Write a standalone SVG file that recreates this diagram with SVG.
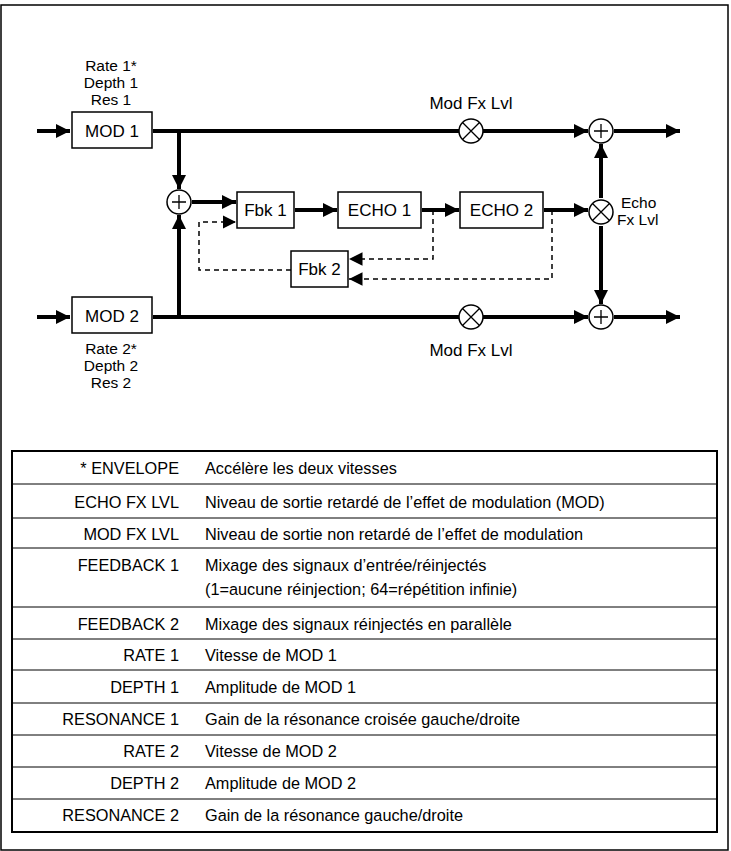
<svg xmlns="http://www.w3.org/2000/svg" width="731" height="851" viewBox="0 0 731 851">
<style>
text{font-family:"Liberation Sans",Arial,sans-serif;font-size:17px;fill:#000}
#table text{font-size:16.3px}
.s{font-size:15.5px}
.c{text-anchor:middle}.r{text-anchor:end}
.box{fill:#fff;stroke:#000;stroke-width:1.5}
.w{fill:none;stroke:#000;stroke-width:4}
.d{fill:none;stroke:#000;stroke-width:1.5;stroke-dasharray:5,4}
.circ{fill:#fff;stroke:#000;stroke-width:1.5}
.t{stroke:#000;stroke-width:1.3}
</style>
<defs>
<marker id="a" viewBox="0 0 10 10" refX="10" refY="5" markerWidth="3.6" markerHeight="3.6" orient="auto" markerUnits="strokeWidth"><path d="M0,0L10,5L0,10z" fill="#000"/></marker>
<marker id="b" viewBox="0 0 10 10" refX="10" refY="5" markerWidth="9" markerHeight="9" orient="auto" markerUnits="strokeWidth"><path d="M0,0L10,5L0,10z" fill="#000"/></marker>
</defs>
<rect x="1" y="5" width="727" height="845" fill="#fff" stroke="#000" stroke-width="1.5"/>
<g id="connectors">
<path class="w" d="M37,131H70" marker-end="url(#a)"/>
<path class="w" d="M37,317H70" marker-end="url(#a)"/>
<path class="w" d="M153,131H588" marker-end="url(#a)"/>
<path class="w" d="M153,317H588" marker-end="url(#a)"/>
<path class="w" d="M179,131V189" marker-end="url(#a)"/>
<path class="w" d="M179,317V215" marker-end="url(#a)"/>
<path class="w" d="M192,202H236" marker-end="url(#a)"/>
<path class="w" d="M295,210H337" marker-end="url(#a)"/>
<path class="w" d="M422,210H459" marker-end="url(#a)"/>
<path class="w" d="M544,210H588" marker-end="url(#a)"/>
<path class="w" d="M614,131H680" marker-end="url(#a)"/>
<path class="w" d="M614,317H680" marker-end="url(#a)"/>
<path class="w" d="M601,198V144" marker-end="url(#a)"/>
<path class="w" d="M601,226V304" marker-end="url(#a)"/>
<path class="d" d="M291,270H199V222H236" marker-end="url(#b)"/>
<path class="d" d="M433,210V259H349" marker-end="url(#b)"/>
<path class="d" d="M552,210V279H349" marker-end="url(#b)"/>
</g>
<g id="sum-in"><circle class="circ" cx="179" cy="202" r="12"/><path class="t" d="M172,202H186M179,195V209"/></g>
<g id="sum-top"><circle class="circ" cx="601" cy="131" r="12"/><path class="t" d="M594,131H608M601,124V138"/></g>
<g id="sum-bot"><circle class="circ" cx="601" cy="317" r="12"/><path class="t" d="M594,317H608M601,310V324"/></g>
<g id="mul-top"><circle class="circ" cx="471" cy="131" r="12"/><path class="t" d="M462.5,122.5L479.5,139.5M479.5,122.5L462.5,139.5"/><text class="c" x="471" y="109">Mod Fx Lvl</text></g>
<g id="mul-bot"><circle class="circ" cx="471" cy="317" r="12"/><path class="t" d="M462.5,308.5L479.5,325.5M479.5,308.5L462.5,325.5"/><text class="c" x="471" y="356">Mod Fx Lvl</text></g>
<g id="mul-echo"><circle class="circ" cx="601" cy="212" r="12"/><path class="t" d="M592.5,203.5L609.5,220.5M609.5,203.5L592.5,220.5"/><text class="s" x="621" y="208">Echo</text><text class="s" x="617" y="225">Fx Lvl</text></g>
<g id="mod1"><rect class="box" x="72" y="112" width="80" height="36"/><text class="c" x="112" y="137">MOD 1</text>
<text class="c s" x="111" y="71">Rate 1*</text><text class="c s" x="111" y="88">Depth 1</text><text class="c s" x="111" y="105">Res 1</text></g>
<g id="mod2"><rect class="box" x="72" y="297" width="80" height="36"/><text class="c" x="112" y="322">MOD 2</text>
<text class="c s" x="111" y="354">Rate 2*</text><text class="c s" x="111" y="371">Depth 2</text><text class="c s" x="111" y="388">Res 2</text></g>
<g id="fbk1"><rect class="box" x="237" y="192" width="57" height="36"/><text class="c" x="265.5" y="216">Fbk 1</text></g>
<g id="echo1"><rect class="box" x="338" y="192" width="83" height="36"/><text class="c" x="379.5" y="216">ECHO 1</text></g>
<g id="echo2"><rect class="box" x="460" y="192" width="83" height="36"/><text class="c" x="501.5" y="216">ECHO 2</text></g>
<g id="fbk2"><rect class="box" x="291" y="251" width="57" height="36"/><text class="c" x="319.5" y="275">Fbk 2</text></g>
<g id="table">
<rect x="12" y="451" width="705" height="381" fill="none" stroke="#000" stroke-width="2"/>
<path stroke="#000" stroke-width="1" d="M12,484H717M12,518H717M12,548H717M12,607H717M12,639H717M12,670H717M12,703H717M12,735H717M12,767H717M12,799H717"/>
<text class="r" x="179" y="474">* ENVELOPE</text><text x="205" y="474">Accélère les deux vitesses</text>
<text class="r" x="179" y="508">ECHO FX LVL</text><text x="205" y="508">Niveau de sortie retardé de l’effet de modulation (MOD)</text>
<text class="r" x="179" y="540">MOD FX LVL</text><text x="205" y="540">Niveau de sortie non retardé de l’effet de modulation</text>
<text class="r" x="179" y="571">FEEDBACK 1</text><text x="205" y="571">Mixage des signaux d’entrée/réinjectés</text><text x="205" y="595">(1=aucune réinjection; 64=répétition infinie)</text>
<text class="r" x="179" y="630">FEEDBACK 2</text><text x="205" y="630">Mixage des signaux réinjectés en parallèle</text>
<text class="r" x="179" y="661">RATE 1</text><text x="205" y="661">Vitesse de MOD 1</text>
<text class="r" x="179" y="693">DEPTH 1</text><text x="205" y="693">Amplitude de MOD 1</text>
<text class="r" x="179" y="725">RESONANCE 1</text><text x="205" y="725">Gain de la résonance croisée gauche/droite</text>
<text class="r" x="179" y="757">RATE 2</text><text x="205" y="757">Vitesse de MOD 2</text>
<text class="r" x="179" y="789">DEPTH 2</text><text x="205" y="789">Amplitude de MOD 2</text>
<text class="r" x="179" y="821">RESONANCE 2</text><text x="205" y="821">Gain de la résonance gauche/droite</text>
</g>
</svg>
